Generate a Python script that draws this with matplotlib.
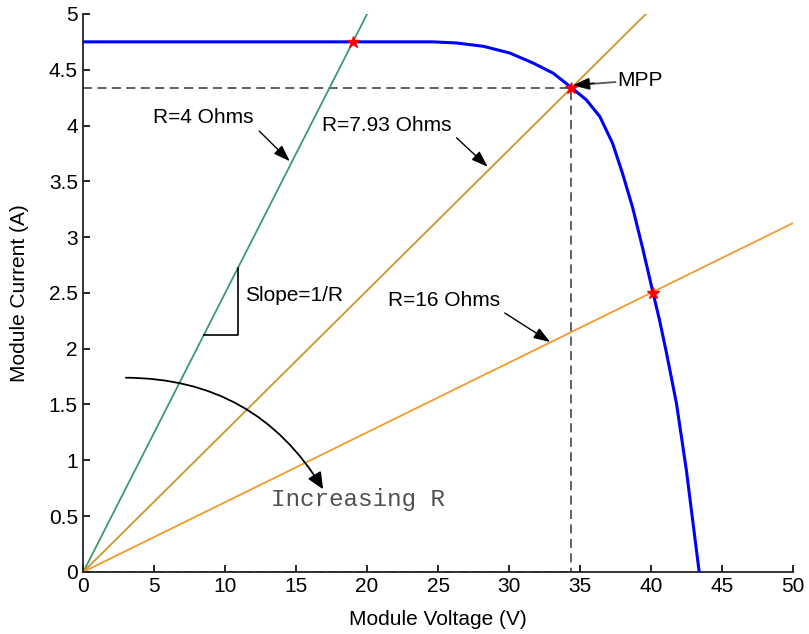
import numpy as np
import matplotlib
matplotlib.use('Agg')
import matplotlib.pyplot as plt

plt.rcParams['font.family'] = ['Liberation Sans', 'DejaVu Sans']

# --- Module I-V curve ---
iv_voltage = [0, 5, 10, 15, 20, 22.3, 24.6, 26.3, 28.2, 30.05, 31.7, 33.1,
              34.4, 35.45, 36.4, 37.3, 38.0, 38.7, 39.4, 40.15, 40.6, 41.1,
              41.8, 42.5, 43.4]
iv_current = [4.75, 4.75, 4.75, 4.75, 4.75, 4.75, 4.75, 4.74, 4.71, 4.65,
              4.56, 4.47, 4.34, 4.23, 4.08, 3.84, 3.57, 3.27, 2.91, 2.50,
              2.26, 1.96, 1.51, 0.91, 0.0]

# --- Resistive load lines I = V/R ---
load_r = [4.0, 7.93, 16.0]
load_v_end = [20.0, 39.65, 50.0]
load_colors = ['#3d9a6c', '#c8962e', '#f29a2e']

# operating points (intersections of load lines with the I-V curve)
op_v = [19.0, 34.4, 40.15]
op_i = [4.75, 4.34, 2.50]
v_mpp, i_mpp = 34.4, 4.34

# slope triangle on the 4 ohm line
tri_v = [8.5, 10.9, 10.9]
tri_i = [2.125, 2.125, 2.725]

fig, ax = plt.subplots(figsize=(8.09, 6.34), dpi=100)
fig.subplots_adjust(left=0.103, right=0.98, bottom=0.098, top=0.978)

# dashed guides to the maximum power point
dash = dict(color='#555555', lw=1.3, linestyle=(0, (5, 3)), zorder=1)
ax.plot([0, v_mpp, v_mpp], [i_mpp, i_mpp, 0], **dash)
ax.plot([0, v_mpp], [0, 0], **dash)

for r, v_end, c in zip(load_r, load_v_end, load_colors):
    v = np.array([0, v_end])
    ax.plot(v, v / r, color=c, lw=1.3, zorder=2)

ax.plot(iv_voltage, iv_current, color='#0000ff', lw=2.2, zorder=3)
ax.plot(op_v, op_i, linestyle='none', marker='*', color='red',
        markersize=9, zorder=4)

ax.plot(tri_v, tri_i, color='black', lw=1.2)

# labels with arrows
head = '-|>,head_length=1.0,head_width=0.35'
arrow = dict(arrowstyle=head, color='black', lw=1.0, shrinkA=0, shrinkB=0)
txt = dict(fontsize=15, va='center', ha='left')
ax.annotate('', xy=(14.55, 3.68), xytext=(12.4, 3.95), arrowprops=arrow)
ax.text(4.9, 4.07, 'R=4 Ohms', **txt)
ax.annotate('', xy=(28.5, 3.63), xytext=(26.3, 3.89), arrowprops=arrow)
ax.text(16.85, 4.0, 'R=7.93 Ohms', **txt)
ax.annotate('', xy=(32.9, 2.06), xytext=(29.7, 2.32), arrowprops=arrow)
ax.text(21.45, 2.43, 'R=16 Ohms', **txt)
ax.text(11.4, 2.48, 'Slope=1/R', **txt)

# MPP pointer: grey shaft, black head
ax.annotate('', xy=(v_mpp + 0.1, i_mpp + 0.02), xytext=(37.5, 4.39),
            arrowprops=dict(arrowstyle=head, color='#555555', lw=1.3,
                            shrinkA=0, shrinkB=0))
ax.annotate('', xy=(v_mpp + 0.1, i_mpp + 0.02), xytext=(36.0, 4.38),
            arrowprops=arrow)
ax.text(37.6, 4.40, 'MPP', **txt)

ax.annotate('', xy=(16.9, 0.74), xytext=(3.0, 1.74),
            arrowprops=dict(arrowstyle='-|>,head_length=1.0,head_width=0.45',
                            color='black', lw=1.3, shrinkA=0, shrinkB=0,
                            connectionstyle='arc3,rad=-0.28'))
ax.text(13.25, 0.65, 'Increasing R', fontsize=17.5, va='center', ha='left',
        family='Liberation Mono', color='#505050')

ax.set_xlim(0, 50)
ax.set_ylim(0, 5)
ax.set_xticks(np.arange(0, 51, 5))
ax.set_yticks(np.arange(0, 5.01, 0.5))
ax.set_yticklabels(['0', '0.5', '1', '1.5', '2', '2.5', '3', '3.5', '4', '4.5', '5'])
ax.tick_params(direction='in', length=5, width=1.2, labelsize=15, pad=4)
for side in ['top', 'right']:
    ax.spines[side].set_visible(False)
for side in ['left', 'bottom']:
    ax.spines[side].set_linewidth(1.3)
    ax.spines[side].set_color('#222222')

ax.set_xlabel('Module Voltage (V)', fontsize=15, labelpad=10)
ax.set_ylabel('Module Current (A)', fontsize=15, labelpad=14)

fig.savefig('out.png', dpi=100)
